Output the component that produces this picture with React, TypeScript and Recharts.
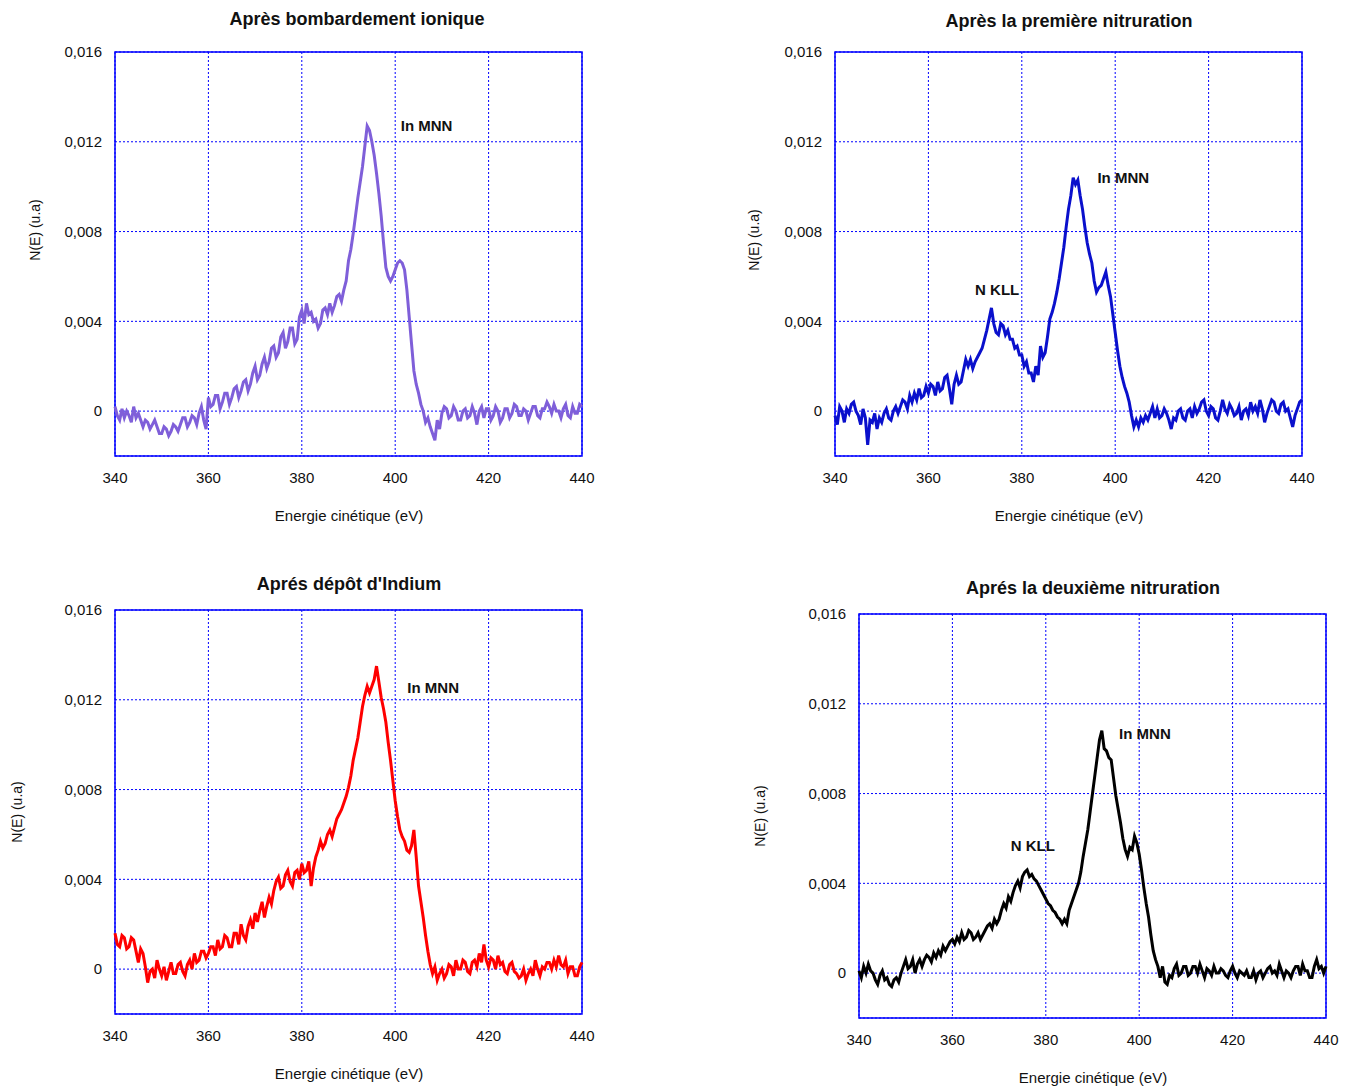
import { LineChart, Line, XAxis, YAxis, CartesianGrid, ReferenceArea, ReferenceDot } from "recharts";

// kinetic energy (eV), one point every 0.5 eV
const energies = [
  340, 340.5, 341, 341.5, 342, 342.5, 343, 343.5, 344, 344.5, 345, 345.5, 346, 346.5, 347, 347.5, 348, 348.5, 349, 349.5,
  350, 350.5, 351, 351.5, 352, 352.5, 353, 353.5, 354, 354.5, 355, 355.5, 356, 356.5, 357, 357.5, 358, 358.5, 359, 359.5,
  360, 360.5, 361, 361.5, 362, 362.5, 363, 363.5, 364, 364.5, 365, 365.5, 366, 366.5, 367, 367.5, 368, 368.5, 369, 369.5,
  370, 370.5, 371, 371.5, 372, 372.5, 373, 373.5, 374, 374.5, 375, 375.5, 376, 376.5, 377, 377.5, 378, 378.5, 379, 379.5,
  380, 380.5, 381, 381.5, 382, 382.5, 383, 383.5, 384, 384.5, 385, 385.5, 386, 386.5, 387, 387.5, 388, 388.5, 389, 389.5,
  390, 390.5, 391, 391.5, 392, 392.5, 393, 393.5, 394, 394.5, 395, 395.5, 396, 396.5, 397, 397.5, 398, 398.5, 399, 399.5,
  400, 400.5, 401, 401.5, 402, 402.5, 403, 403.5, 404, 404.5, 405, 405.5, 406, 406.5, 407, 407.5, 408, 408.5, 409, 409.5,
  410, 410.5, 411, 411.5, 412, 412.5, 413, 413.5, 414, 414.5, 415, 415.5, 416, 416.5, 417, 417.5, 418, 418.5, 419, 419.5,
  420, 420.5, 421, 421.5, 422, 422.5, 423, 423.5, 424, 424.5, 425, 425.5, 426, 426.5, 427, 427.5, 428, 428.5, 429, 429.5,
  430, 430.5, 431, 431.5, 432, 432.5, 433, 433.5, 434, 434.5, 435, 435.5, 436, 436.5, 437, 437.5, 438, 438.5, 439, 439.5,
  440,
];

// N(E) in units of 1e-4
const bombardement = [
  2, -2, -4, 1, -3, 0, -2, -5, 2, -3, -1, -4, -7, -4, -5, -8, -6, -4, -7, -10,
  -10, -7, -8, -11, -9, -6, -7, -9, -6, -3, -3, -7, -5, -2, -3, -6, -1, 2, -4, -8,
  6, 2, 3, 7, 7, 1, 4, 8, 8, 3, 6, 10, 11, 6, 9, 13, 14, 9, 12, 17,
  20, 14, 16, 21, 24, 19, 22, 28, 29, 24, 26, 33, 35, 28, 31, 37, 37, 30, 32, 42,
  45, 39, 48, 43, 44, 40, 41, 37, 39, 45, 46, 43, 48, 44, 47, 51, 52, 49, 54, 58,
  67, 72, 79, 87, 95, 102, 109, 118, 127, 125, 120, 114, 106, 97, 87, 75, 64, 60, 58, 60,
  63, 66, 67, 66, 63, 54, 42, 30, 18, 12, 8, 3, 0, -5, -3, -7, -10, -13, -4, -8,
  -1, 2, 1, -3, -2, 2, 0, -4, -4, 0, 1, -3, -2, 2, -1, -6, 0, 2, -3, 1,
  1, -4, -2, 2, 0, -5, -3, 1, 1, -3, -1, 3, 2, -2, -2, 1, 0, -4, -1, 2,
  2, -2, -3, 1, 1, 4, 2, -1, 3, 0, 0, -3, 1, 3, -2, -3, 2, -1, -1, 3,
  2,
];

const premiereNitruration = [
  -2, -6, 2, 0, -5, 1, -1, 3, 4, 0, -2, -6, 1, -3, -15, -4, -5, -1, -8, -3,
  -5, -1, 1, -3, -4, 0, 2, -1, 2, 5, 4, 1, 7, 4, 8, 5, 10, 6, 7, 11,
  8, 12, 11, 7, 13, 9, 10, 15, 16, 10, 3, 12, 16, 12, 13, 18, 23, 20, 23, 19,
  22, 24, 26, 28, 32, 36, 41, 46, 39, 35, 34, 39, 38, 34, 36, 32, 32, 28, 29, 25,
  25, 20, 22, 17, 17, 13, 20, 16, 29, 24, 26, 33, 41, 44, 48, 53, 59, 66, 73, 82,
  90, 96, 104, 101, 103, 96, 90, 82, 75, 70, 66, 58, 53, 55, 56, 59, 62, 56, 51, 43,
  35, 27, 20, 15, 11, 8, 4, -2, -7, -4, -7, -3, -5, -2, -4, -1, 2, -3, 1, -3,
  -2, 1, -1, -4, -8, -3, -4, 0, 1, -3, -4, 0, 1, -3, 2, -1, 1, 4, 5, 0,
  -2, 2, 1, -3, -4, 0, 5, 1, -1, 3, 1, -2, -1, 2, -4, 0, 1, -2, 4, 0,
  2, -1, 5, 1, -5, -1, 2, 5, 4, 0, -1, 3, 4, 0, 1, -3, -7, -2, 1, 4,
  5,
];

const depotIndium = [
  16, 11, 10, 15, 14, 9, 10, 14, 13, 8, 3, 9, 7, 1, -6, -1, 0, -4, 4, 0,
  -3, 1, -5, -1, 3, -2, -2, 2, 3, -1, -3, 2, 4, 0, 7, 3, 4, 8, 8, 5,
  7, 10, 10, 6, 13, 9, 10, 15, 14, 10, 10, 16, 16, 11, 20, 15, 13, 19, 22, 18,
  25, 21, 26, 30, 23, 28, 32, 29, 35, 39, 41, 36, 37, 42, 44, 39, 37, 43, 44, 40,
  47, 43, 44, 48, 37, 45, 50, 53, 57, 54, 56, 60, 62, 59, 63, 67, 69, 71, 74, 77,
  81, 86, 93, 98, 103, 110, 117, 122, 126, 123, 126, 129, 135, 128, 121, 116, 110, 101, 93, 84,
  75, 68, 62, 59, 57, 53, 52, 55, 62, 50, 37, 30, 23, 15, 8, 2, -2, 1, -5, -2,
  0, -4, -2, 2, 1, -3, 4, 0, 0, 4, 3, -1, -2, 3, 4, 1, 7, 3, 11, 4,
  1, 5, 4, 0, 6, 2, 3, -1, -2, 2, 3, -1, -2, -4, -3, 0, -5, -2, 0, -3,
  4, 0, -3, 1, 0, 3, 3, 0, 4, 1, 6, 2, 1, 4, -2, 1, 1, -3, -3, 1,
  3,
];

const deuxiemeNitruration = [
  1, -2, 3, 0, 4, 1, 0, -3, -5, -1, 1, -3, -2, -5, -6, -3, -2, -4, 0, 3,
  6, 2, 3, 6, 0, 4, 6, 3, 6, 8, 7, 5, 9, 7, 10, 8, 12, 10, 12, 14,
  15, 13, 16, 14, 18, 15, 16, 19, 18, 15, 16, 18, 15, 17, 19, 21, 22, 20, 24, 22,
  24, 28, 31, 29, 34, 32, 36, 39, 41, 38, 43, 45, 46, 43, 44, 42, 41, 39, 37, 35,
  33, 31, 30, 28, 27, 25, 24, 22, 24, 22, 28, 31, 34, 37, 40, 45, 52, 58, 64, 72,
  80, 88, 96, 104, 108, 100, 99, 96, 95, 87, 79, 73, 67, 60, 55, 52, 56, 55, 61, 58,
  53, 46, 38, 31, 25, 17, 10, 6, 3, -2, 3, -4, -5, -1, -2, 2, 4, -1, 0, 3,
  3, -1, 0, 3, 3, 0, 4, 1, -2, 2, 1, -1, 3, 0, 0, 2, 1, -1, -2, 1,
  3, 0, -2, 1, 0, -1, 1, -2, -2, 1, -3, 0, 1, -2, 0, 2, 3, 0, 1, -1,
  4, 1, -2, 1, 0, -2, 1, 3, 3, -1, 4, 1, 1, -2, -2, 3, 6, 2, 3, 0,
  3,
];

const UNIT = 1e-4;
const xTicks = [340, 360, 380, 400, 420, 440];
const yTicks = [0, 0.004, 0.008, 0.012, 0.016];

const FONT = '"Liberation Sans", Arial, sans-serif';
const GRID = "#0000ff";

const fmtY = (v: number) => (v === 0 ? "0" : v.toFixed(3).replace(".", ","));

type Note = { text: string; x: number; y: number };

interface PanelProps {
  left: number;
  top: number;
  title: string;
  titlePos: [number, number];
  yLabelPos: [number, number];
  values: number[];
  color: string;
  notes: Note[];
}

function Panel({ left, top, title, titlePos, yLabelPos, values, color, notes }: PanelProps) {
  const data = energies.map((e, i) => ({ e, n: values[i] * UNIT }));
  return (
    <div style={{ position: "absolute", left, top, width: 600, height: 530, fontFamily: FONT }}>
      <div
        style={{
          position: "absolute", left: titlePos[0], top: titlePos[1], transform: "translate(-50%, -50%)",
          fontSize: 18, fontWeight: "bold", whiteSpace: "nowrap", color: "#111",
        }}
      >
        {title}
      </div>
      <div
        style={{
          position: "absolute", left: yLabelPos[0], top: yLabelPos[1], transform: "translate(-50%, -50%) rotate(-90deg)",
          fontSize: 14, whiteSpace: "nowrap", color: "#111",
        }}
      >
        N(E) (u.a)
      </div>
      <div
        style={{
          position: "absolute", left: 349, top: 515, transform: "translate(-50%, -50%)",
          fontSize: 15, whiteSpace: "nowrap", color: "#111",
        }}
      >
        Energie cinétique (eV)
      </div>
      <LineChart width={600} height={530} data={data} margin={{ top: 52, right: 18, bottom: 0, left: 0 }}>
        <CartesianGrid stroke={GRID} strokeDasharray="2 2" strokeWidth={1} />
        <XAxis
          dataKey="e" type="number" domain={[340, 440]} ticks={xTicks} height={74}
          axisLine={false} tickLine={false} tickSize={0} tickMargin={16}
          tick={{ fontSize: 15, fill: "#111", fontFamily: FONT }}
        />
        <YAxis
          type="number" domain={[-0.002, 0.016]} ticks={yTicks} width={115} allowDataOverflow
          axisLine={false} tickLine={false} tickSize={0} tickMargin={13} tickFormatter={fmtY}
          tick={{ fontSize: 15, fill: "#111", fontFamily: FONT }}
        />
        <Line type="linear" dataKey="n" stroke={color} strokeWidth={3} dot={false} isAnimationActive={false} />
        <ReferenceArea x1={340} x2={440} y1={-0.002} y2={0.016} fill="none" stroke={GRID} strokeWidth={1.5} ifOverflow="visible" />
        {notes.map((nt) => (
          <ReferenceDot
            key={nt.text} x={nt.x} y={nt.y} r={0} fill="none" stroke="none"
            label={{ value: nt.text, position: "right", offset: 0, fill: "#111", fontSize: 15, fontWeight: "bold", fontFamily: FONT }}
          />
        ))}
      </LineChart>
    </div>
  );
}

export default function App() {
  return (
    <div style={{ position: "absolute", left: 0, top: 0, width: 1351, height: 1087, overflow: "hidden", background: "#fff" }}>
      <Panel
        left={0} top={0} title="Après bombardement ionique" titlePos={[357, 19]} yLabelPos={[35, 230]}
        values={bombardement} color="#7f5fd9"
        notes={[{ text: "In MNN", x: 401.2, y: 0.01273 }]}
      />
      <Panel
        left={720} top={0} title="Après la première nitruration" titlePos={[349, 21]} yLabelPos={[34, 240]}
        values={premiereNitruration} color="#0a10cc"
        notes={[{ text: "In MNN", x: 396.2, y: 0.01041 }, { text: "N KLL", x: 370, y: 0.00539 }]}
      />
      <Panel
        left={0} top={558} title="Aprés dépôt d'Indium" titlePos={[349, 26]} yLabelPos={[17, 254]}
        values={depotIndium} color="#ff0000"
        notes={[{ text: "In MNN", x: 402.6, y: 0.01254 }]}
      />
      <Panel
        left={744} top={562} title="Aprés la deuxième nitruration" titlePos={[349, 26]} yLabelPos={[16, 254]}
        values={deuxiemeNitruration} color="#000000"
        notes={[{ text: "In MNN", x: 395.7, y: 0.01065 }, { text: "N KLL", x: 372.5, y: 0.0057 }]}
      />
    </div>
  );
}
